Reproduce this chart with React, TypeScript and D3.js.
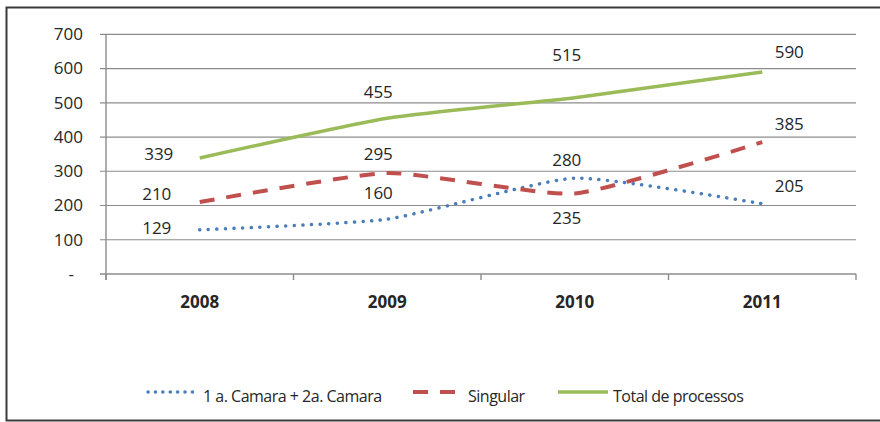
import { useEffect, useRef } from 'react'
import * as d3 from 'd3'

const years = ['2008', '2009', '2010', '2011']
const camaras = [129, 160, 280, 205]
const singular = [210, 295, 235, 385]
const total = [339, 455, 515, 590]
const yTicks = [0, 100, 200, 300, 400, 500, 600, 700]

interface Series { name: string; values: number[]; color: string; width: number; dash: string; cap: string; offsets: [number, number][] }

const series: Series[] = [
  { name: '1 a. Camara + 2a. Camara', values: camaras, color: '#4a7ebb', width: 3.5, dash: '0.1 8.5', cap: 'round',
    offsets: [[-43, -1.5], [-9, -26.5], [-8, -18], [27, -18]] },
  { name: 'Singular', values: singular, color: '#c0504d', width: 4, dash: '15 12', cap: 'butt',
    offsets: [[-43, -8], [-9, -19], [-8, 25], [27, -18]] },
  { name: 'Total de processos', values: total, color: '#9bbb59', width: 3.5, dash: 'none', cap: 'butt',
    offsets: [[-41, -3.5], [-9, -26.5], [-8, -42.5], [27, -20]] },
]

export default function App() {
  const svgRef = useRef<SVGSVGElement>(null)

  useEffect(() => {
    if (!svgRef.current) return
    const width = 880
    const height = 422
    const m = { top: 34.3, right: 24, bottom: 148, left: 106 }
    const iW = width - m.left - m.right
    const iH = height - m.top - m.bottom

    const svg = d3.select(svgRef.current)
    svg.selectAll('*').remove()
    svg.attr('width', width).attr('height', height)
    svg.append('rect').attr('width', width).attr('height', height).attr('fill', '#fff')

    // frame
    svg.append('rect').attr('x', 6.5).attr('y', 7.5).attr('width', width + 10).attr('height', 413)
      .attr('fill', 'none').attr('stroke', '#3a3a3a').attr('stroke-width', 2)

    const g = svg.append('g').attr('transform', `translate(${m.left},${m.top})`)
    const font = "'Open Sans', sans-serif"

    const x = d3.scaleBand().domain(years).range([0, iW])
    const cx = (i: number) => (x(years[i]) ?? 0) + x.bandwidth() / 2
    const y = d3.scaleLinear().domain([0, 700]).range([iH, 0])

    // grid
    g.append('g').selectAll('line').data(yTicks.slice(1)).enter().append('line')
      .attr('x1', -6).attr('x2', iW).attr('y1', d => y(d)).attr('y2', d => y(d))
      .attr('stroke', '#8c8c8c').attr('stroke-width', 1.2)

    // axes
    g.append('line').attr('x1', -6).attr('x2', iW).attr('y1', iH).attr('y2', iH).attr('stroke', '#8c8c8c').attr('stroke-width', 1.4)
    g.append('line').attr('x1', 0).attr('x2', 0).attr('y1', 0).attr('y2', iH + 6).attr('stroke', '#8c8c8c').attr('stroke-width', 1.4)
    const bounds = years.map(yr => x(yr) ?? 0).concat([iW])
    g.append('g').selectAll('line').data(bounds).enter().append('line')
      .attr('x1', d => d).attr('x2', d => d).attr('y1', iH).attr('y2', iH + 6)
      .attr('stroke', '#8c8c8c').attr('stroke-width', 1.4)

    // y labels
    g.append('g').selectAll('text').data(yTicks).enter().append('text')
      .attr('x', d => d === 0 ? -32 : -23).attr('y', d => y(d)).attr('dy', '0.35em')
      .attr('text-anchor', 'end').attr('fill', '#262626').attr('font-family', font).attr('font-size', '17px')
      .text(d => d === 0 ? '-' : String(d))

    // x labels
    g.append('g').selectAll('text').data(years).enter().append('text')
      .attr('x', (_, i) => cx(i)).attr('y', iH + 34)
      .attr('text-anchor', 'middle').attr('fill', '#262626').attr('font-family', font).attr('font-size', '17px').attr('font-weight', 'bold')
      .text(d => d)

    // lines
    const line = d3.line<number>().x((_, i) => cx(i)).y(d => y(d)).curve(d3.curveCardinal.tension(0.5))
    series.forEach(s => {
      g.append('path').datum(s.values)
        .attr('fill', 'none').attr('stroke', s.color).attr('stroke-width', s.width)
        .attr('stroke-dasharray', s.dash).attr('stroke-linecap', s.cap)
        .attr('d', line)
    })

    // data labels
    series.forEach(s => {
      g.append('g').selectAll('text').data(s.values).enter().append('text')
        .attr('x', (_, i) => cx(i) + s.offsets[i][0]).attr('y', (d, i) => y(d) + s.offsets[i][1]).attr('dy', '0.35em')
        .attr('text-anchor', 'middle').attr('fill', '#262626').attr('font-family', font).attr('font-size', '17px')
        .text(d => String(d))
    })

    // legend
    const legendX = [148, 413, 558]
    const leg = svg.append('g').attr('transform', 'translate(0,392)')
    series.forEach((s, i) => {
      const lx = legendX[i]
      const sw = i === 2 ? 50 : 45
      leg.append('line').attr('x1', lx).attr('x2', lx + sw).attr('y1', 0).attr('y2', 0)
        .attr('stroke', s.color).attr('stroke-width', s.width)
        .attr('stroke-dasharray', i === 0 ? '0.1 7.3' : s.dash).attr('stroke-linecap', s.cap)
      leg.append('text').attr('x', lx + sw + (i === 2 ? 5 : 10)).attr('y', 10)
        .attr('fill', '#262626').attr('font-family', font).attr('font-size', '16px').attr('letter-spacing', '-0.5px')
        .text(s.name)
    })
  }, [])

  return <svg ref={svgRef} style={{ position: 'absolute', left: 0, top: 0 }} />
}
